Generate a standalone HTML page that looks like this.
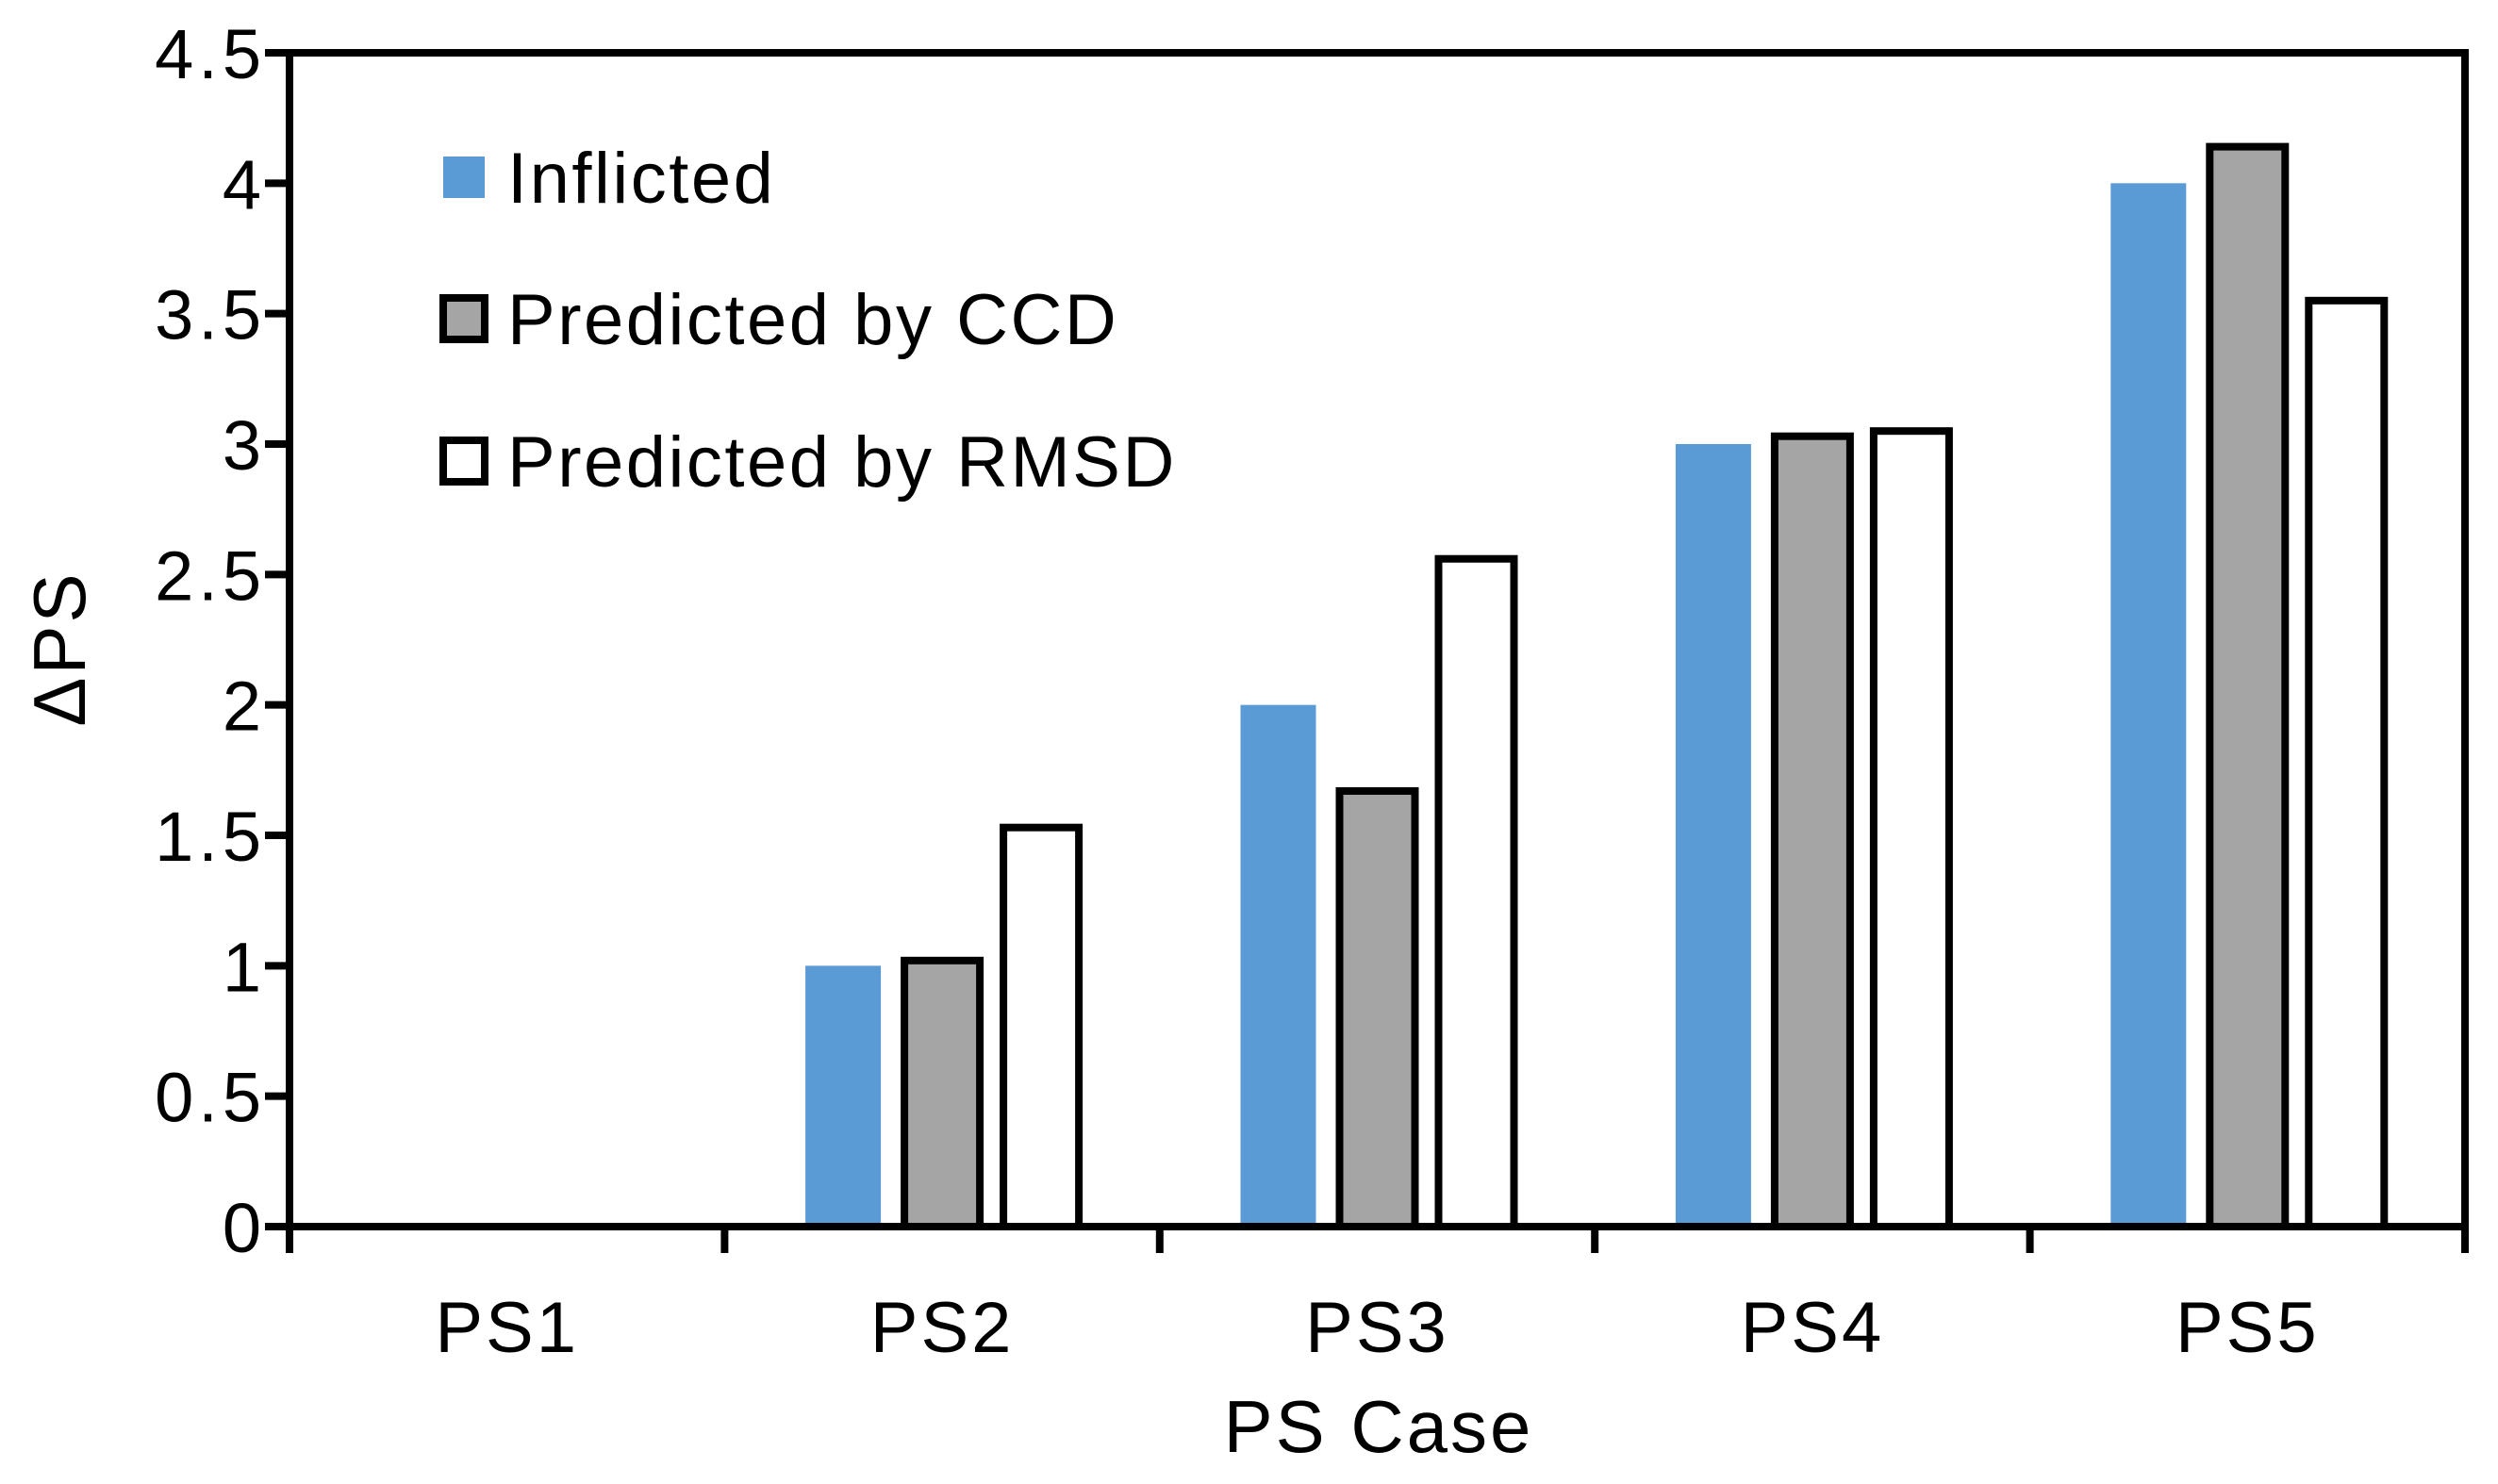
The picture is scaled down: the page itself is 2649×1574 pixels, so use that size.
<!DOCTYPE html>
<html><head><meta charset="utf-8"><style>
body{margin:0;background:#fff}
svg{display:block}
text{font-family:"Liberation Sans",sans-serif;fill:#000}
</style></head><body>
<svg id="chart" width="2649" height="1574" viewBox="0 0 2649 1574" xmlns="http://www.w3.org/2000/svg">
<g id="plot"></g>
<g id="legend">
 <g><rect x="470" y="166" width="44" height="44" fill="#5B9BD5"/><text x="538" y="215" font-size="76" letter-spacing="2.5">Inflicted</text></g>
 <g><rect x="470" y="316" width="44" height="44" fill="#A5A5A5" stroke="#000" stroke-width="8"/><text x="538" y="365" font-size="76" letter-spacing="2.5">Predicted by CCD</text></g>
 <g><rect x="470" y="467" width="44" height="44" fill="#fff" stroke="#000" stroke-width="8"/><text x="538" y="516" font-size="76" letter-spacing="2.5">Predicted by RMSD</text></g>
</g>
<text transform="translate(90,688) rotate(-90)" text-anchor="middle" font-size="78" letter-spacing="3">ΔPS</text>
<text x="1462" y="1540" text-anchor="middle" font-size="78" letter-spacing="3">PS Case</text>
</svg>
<script>
const categories=["PS1","PS2","PS3","PS4","PS5"];
const inflicted=[0,1,2,3,4];
const ccd=[0,1.02,1.67,3.03,4.14];
const rmsd=[0,1.53,2.56,3.05,3.55];
const yTicks=["0","0.5","1","1.5","2","2.5","3","3.5","4","4.5"];
const NS="http://www.w3.org/2000/svg";
const L=307,R=2614,T=56,B=1301,yMax=4.5;
const y=v=>B-(v/yMax)*(B-T);
const bw=(R-L)/categories.length;
const xc=i=>L+bw*(i+0.5);
const g=document.getElementById('plot');
function mk(tag,a){const e=document.createElementNS(NS,tag);for(const k in a)e.setAttribute(k,a[k]);g.appendChild(e);return e;}
const series=[{d:inflicted,fill:"#5B9BD5",stroke:"none",n:"inflicted"},{d:ccd,fill:"#A5A5A5",stroke:"#000",n:"ccd"},{d:rmsd,fill:"#fff",stroke:"#000",n:"rmsd"}];
const barW=80,step=105;
categories.forEach((c,i)=>{
 series.forEach((s,j)=>{
  const v=s.d[i]; if(v<=0)return;
  const cx=xc(i)+(j-1)*step;
  const r=mk('rect',{x:cx-barW/2,y:y(v),width:barW,height:B-y(v),fill:s.fill,stroke:s.stroke,'stroke-width':8});
  
  
 });
 const t=mk('text',{x:xc(i),y:1434,'text-anchor':'middle','font-size':76,'letter-spacing':3});
 t.textContent=c;
 
 
});
yTicks.forEach(s=>{
 const v=parseFloat(s);
 const tk=mk('line',{x1:L-26,x2:L,y1:y(v),y2:y(v),stroke:'#000','stroke-width':8});
 
 
 const t=mk('text',{x:282,y:y(v)+27,'text-anchor':'end','font-size':74,'letter-spacing':5});
 t.textContent=s;
 
 
});
for(let i=0;i<=categories.length;i++){
 const tk=mk('line',{x1:L+bw*i,x2:L+bw*i,y1:B,y2:B+28,stroke:'#000','stroke-width':8});
 
 
}
const fr=mk('rect',{x:L,y:T,width:R-L,height:B-T,fill:'none',stroke:'#000','stroke-width':8});


</script>
</body></html>
